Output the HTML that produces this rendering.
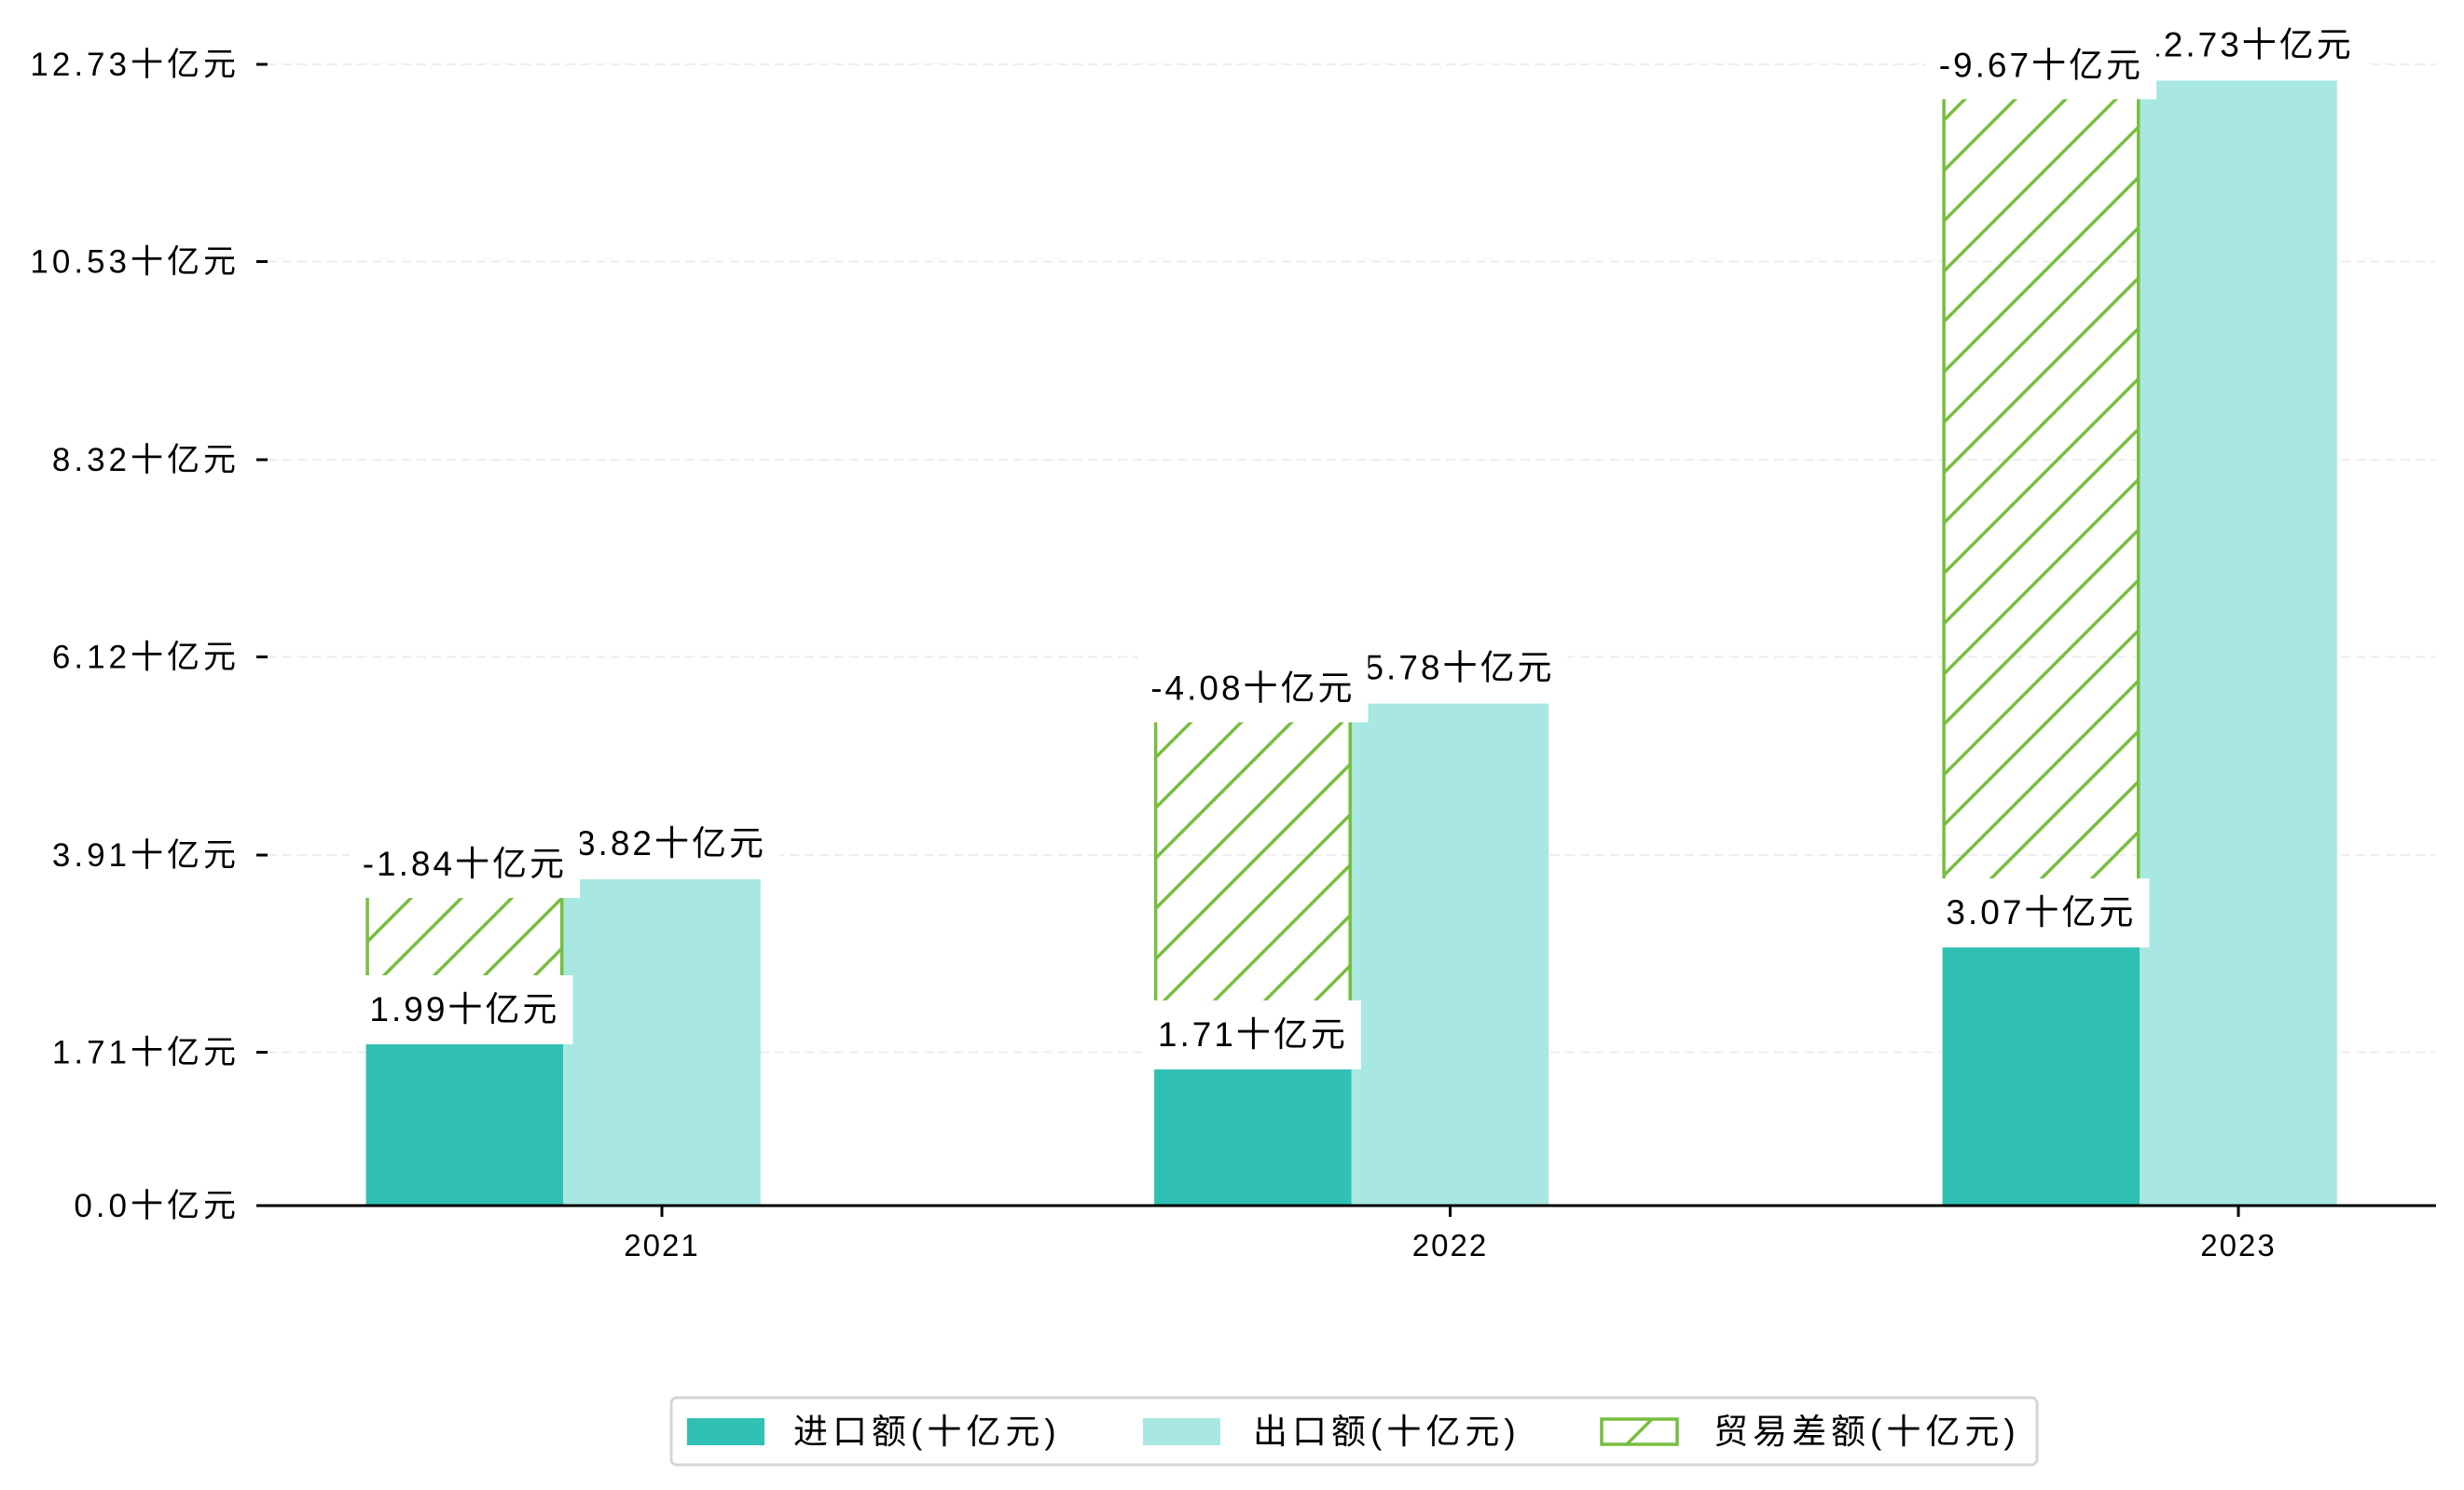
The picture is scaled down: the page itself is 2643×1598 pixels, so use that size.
<!DOCTYPE html>
<html><head><meta charset="utf-8">
<style>
html,body{margin:0;padding:0;background:#fff;}
svg{display:block;font-family:"Liberation Sans","WenQuanYi Zen Hei","Noto Sans CJK SC",sans-serif;}
</style></head>
<body>
<svg id="chart" width="2643" height="1598" viewBox="0 0 2643 1598" xmlns="http://www.w3.org/2000/svg">
<defs>
<pattern id="hatch" patternUnits="userSpaceOnUse" width="54" height="54">
<path d="M-6,60 L60,-6 M-33,33 L33,-33 M21,87 L87,21" stroke="#77BE3F" stroke-width="3.5" fill="none"/>
</pattern>
</defs>
<g id="grid"></g>
<g id="bars"></g>
<g id="axes"></g>
<g id="labels"></g>
<g id="legend" letter-spacing="5">
<rect x="720" y="1499" width="1465" height="72" rx="6" fill="#fff" stroke="#d5d5d5" stroke-width="3"/>
<rect x="737" y="1521" width="83" height="29" fill="#30C0B4"/>
<text x="851" y="1548" font-size="37">进口额(十亿元)</text>
<rect x="1226" y="1521" width="83" height="29" fill="#A9E8E2"/>
<text x="1344" y="1548" font-size="37">出口额(十亿元)</text>
<rect x="1718" y="1522" width="81" height="27" fill="url(#hatch)" stroke="#77BE3F" stroke-width="3.5"/>
<text x="1838" y="1548" font-size="37">贸易差额(十亿元)</text>
</g>
</svg>
<script>
const years = ["2021","2022","2023"];
const importVals = [1.99, 1.71, 3.07];
const exportVals = [3.82, 5.78, 12.73];
const balanceVals = [-1.84, -4.08, -9.67];
const yTicks = [0.0, 1.71, 3.91, 6.12, 8.32, 10.53, 12.73];
const yTickLabels = ["0.0十亿元","1.71十亿元","3.91十亿元","6.12十亿元","8.32十亿元","10.53十亿元","12.73十亿元"];

const NS = "http://www.w3.org/2000/svg";
const y0 = 1293, yMax = 12.73, yTopPx = 69;
const ppu = (y0 - yTopPx) / yMax;
const barShift = 0.18;
function y(v){ return y0 - v * ppu; }
function yBar(v){ return y0 - (v - barShift) * ppu; }
const xStart = 710, xStep = 845.5, slotW = 211.6;
const axL = 275, axR = 2613;
function xCenter(i){ return xStart + i * xStep; }
function slotLeft(i, s){ return xCenter(i) - 1.5 * slotW + s * slotW; }

function mk(tag, attrs, parent){
  const e = document.createElementNS(NS, tag);
  for (const k in attrs) e.setAttribute(k, attrs[k]);
  parent.appendChild(e);
  return e;
}
const grid = document.getElementById("grid");
const bars = document.getElementById("bars");
const axes = document.getElementById("axes");
const labels = document.getElementById("labels");

yTicks.forEach((t, i) => {
  const yy = y(t);
  if (t > 0) {
    const g = mk("line", {x1: axL + 12, x2: axR, y1: yy, y2: yy, stroke: "#eeeeee", "stroke-width": 2, "stroke-dasharray": "10,6"}, grid);
    
    
  }
  const tk = mk("line", {x1: axL, x2: axL + 12, y1: yy, y2: yy, stroke: "#000", "stroke-width": 3}, axes);
  
  
  const tl = mk("text", {x: 257, y: yy + 12, "font-size": 35, "text-anchor": "end", "letter-spacing": 4}, axes);
  tl.textContent = yTickLabels[i];
  
  
});
const xa = mk("line", {x1: axL, x2: axR, y1: y0, y2: y0, stroke: "#000", "stroke-width": 3}, axes);



const importTops = [], exportTops = [], balTops = [];
years.forEach((yr, i) => {
  const it = yBar(importVals[i]);
  importTops.push(it);
  const r1 = mk("rect", {x: slotLeft(i,0), y: it, width: slotW, height: y0 - it, fill: "#30C0B4"}, bars);
  
  
  const et = yBar(exportVals[i]);
  exportTops.push(et);
  const r2 = mk("rect", {x: slotLeft(i,1), y: et, width: slotW, height: y0 - et, fill: "#A9E8E2"}, bars);
  
  
  const bh = Math.abs(balanceVals[i]) * ppu;
  const bt = it - bh;
  balTops.push(bt);
  const r3 = mk("rect", {x: slotLeft(i,0) + 1.5, y: bt, width: slotW - 3, height: bh - 2, fill: "url(#hatch)", stroke: "#77BE3F", "stroke-width": 3.5}, bars);
  
  
  const xl = mk("line", {x1: xCenter(i), x2: xCenter(i), y1: y0, y2: y0 + 12, stroke: "#000", "stroke-width": 3}, axes);
  
  
  const xt = mk("text", {x: xCenter(i), y: y0 + 54, "font-size": 33, "text-anchor": "middle", "letter-spacing": 2}, axes);
  xt.textContent = yr;
  
  
});

function label(cx, textCenterY, boxBottom, txt, name){
  const g = mk("g", {}, labels);
  
  
  const t = mk("text", {x: cx, y: textCenterY + 13, "font-size": 37, "text-anchor": "middle", "letter-spacing": 3}, g);
  t.textContent = txt;
  const w = t.getComputedTextLength ? t.getComputedTextLength() : 200;
  const b = mk("rect", {x: cx - w/2 - 14, y: textCenterY - 36, width: w + 28, height: boxBottom - (textCenterY - 36), fill: "#fff"}, g);
  g.insertBefore(b, t);
}
years.forEach((yr, i) => {
  label(slotLeft(i,0) + slotW/2, importTops[i] - 37, importTops[i] + 1, importVals[i].toFixed(2) + "十亿元", 'label-import-' + yr);
});
years.forEach((yr, i) => {
  label(slotLeft(i,1) + slotW/2 + 10, exportTops[i] - 39, exportTops[i], exportVals[i].toFixed(2) + "十亿元", 'label-export-' + yr);
});
years.forEach((yr, i) => {
  label(slotLeft(i,0) + slotW/2, balTops[i] - 16, balTops[i] + 21, balanceVals[i].toFixed(2) + "十亿元", 'label-balance-' + yr);
});
</script>
</body></html>
